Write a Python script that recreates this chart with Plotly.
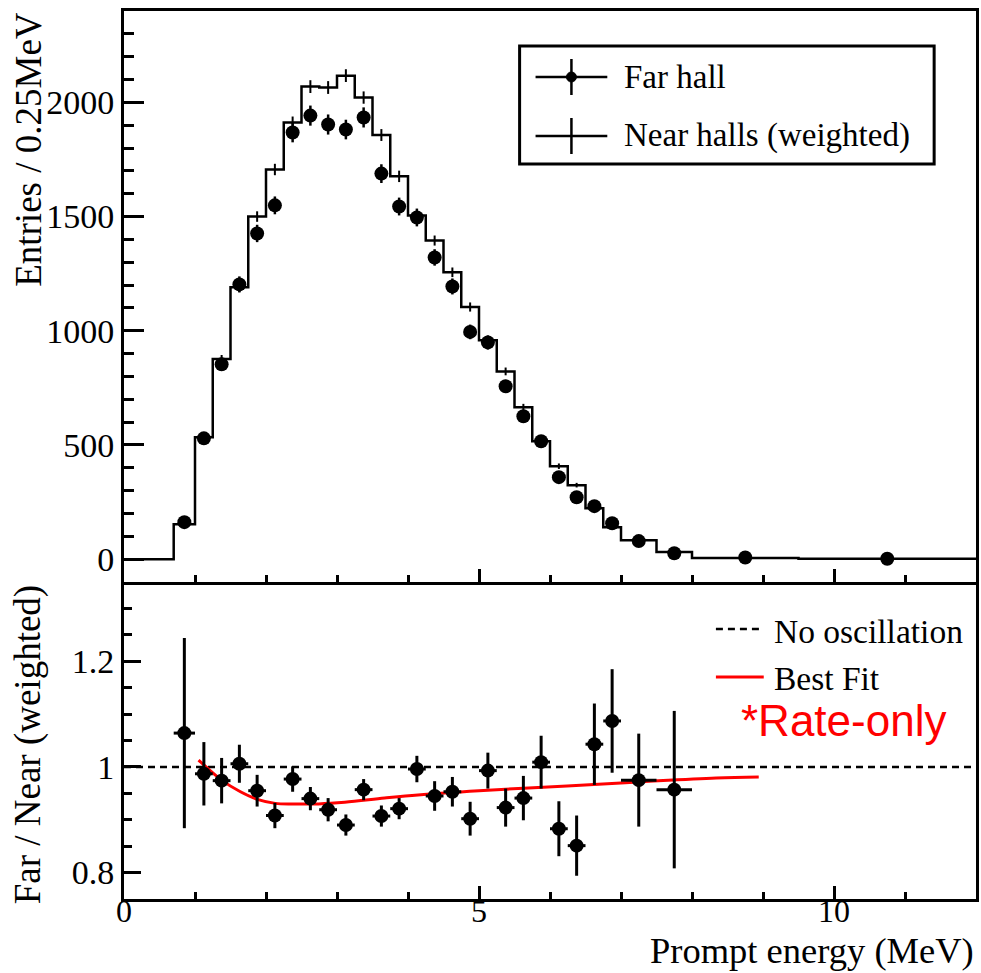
import plotly.graph_objects as go

# ---------------- data ----------------
bin_edges = [0.0, 0.7, 1.0, 1.25, 1.5, 1.75, 2.0, 2.25, 2.5, 2.75, 3.0, 3.25, 3.5, 3.75,
             4.0, 4.25, 4.5, 4.75, 5.0, 5.25, 5.5, 5.75, 6.0, 6.25, 6.5, 6.75, 7.0,
             7.5, 8.0, 9.5, 12.0]
# bins from 0.7 MeV onward (entries / 0.25 MeV)
near_counts = [153, 534, 876, 1190, 1500, 1706, 1912, 2069, 2065, 2117, 2021, 1857, 1676,
               1505, 1395, 1256, 1104, 958, 822, 665, 516, 407, 324, 223, 140, 83, 31, 5, 2]
near_err = [8, 14, 18, 21, 23, 25, 26, 28, 28, 28, 27, 26, 25, 23, 22, 21, 20, 18, 17, 15,
            13, 12, 10, 9, 7, 4, 2, 1, 1]
far_counts = [162, 529, 853, 1203, 1426, 1549, 1868, 1942, 1903, 1881, 1934, 1688, 1544,
              1496, 1321, 1194, 995, 949, 757, 626, 516, 359, 271, 232, 157, 79, 26, 7, 2]
far_err = [13, 23, 29, 35, 38, 39, 43, 44, 44, 43, 44, 41, 39, 39, 36, 35, 32, 31, 28, 25,
           23, 19, 16, 15, 13, 6, 4, 2, 1]

ratio_vals = [1.064, 0.987, 0.974, 1.006, 0.955, 0.908, 0.977, 0.940, 0.919, 0.890, 0.957,
              0.907, 0.921, 0.996, 0.945, 0.953, 0.902, 0.993, 0.923, 0.941, 1.009, 0.883,
              0.851, 1.043, 1.087, 0.975, 0.957]
ratio_err = [0.18, 0.06, 0.043, 0.036, 0.03, 0.024, 0.024, 0.022, 0.022, 0.02, 0.02, 0.02,
             0.02, 0.025, 0.028, 0.028, 0.032, 0.034, 0.036, 0.042, 0.05, 0.052, 0.057,
             0.077, 0.098, 0.088, 0.149]

fit_energy = [1.05, 1.385, 1.64, 1.89, 2.13, 2.41, 2.74, 3.11, 3.67, 4.14, 5.0, 6.24, 7.3, 8.34, 8.94]
fit_ratio = [1.013, 0.974, 0.953, 0.938, 0.931, 0.930, 0.930, 0.933, 0.941, 0.947, 0.955,
             0.964, 0.972, 0.979, 0.981]

no_osc_x = [0, 12]
no_osc_y = [1, 1]

x_ticks = [0, 5, 10]

# derived bin geometry
lo = bin_edges[1:-1]
hi = bin_edges[2:]
centers = [(a + b) / 2 for a, b in zip(lo, hi)]
half_w = [(b - a) / 2 for a, b in zip(lo, hi)]
n_ratio = len(ratio_vals)

# ---------------- layout geometry ----------------
W, H = 981, 973
L, R, T, B = 124, 2, 11, 74
PW, PH = W - L - R, H - T - B
split = (H - B - 582) / PH

def px(xp):
    return (xp - L) / PW

def py(yp):
    return (H - B - yp) / PH

SERIF = "Liberation Serif"
fig = go.Figure()

# near halls step histogram
fig.add_trace(go.Scatter(
    x=bin_edges, y=[0] + near_counts + [near_counts[-1]],
    mode="lines", line=dict(color="black", width=2.5, shape="hv"),
    xaxis="x2", yaxis="y2", showlegend=False, hoverinfo="skip"))
fig.add_trace(go.Scatter(
    x=centers, y=near_counts, mode="markers",
    marker=dict(size=1, color="rgba(0,0,0,0)"),
    error_y=dict(type="data", array=near_err, color="black", thickness=2, width=0),
    xaxis="x2", yaxis="y2", showlegend=False))
# far hall points
fig.add_trace(go.Scatter(
    x=centers, y=far_counts, mode="markers",
    marker=dict(size=14, color="black", symbol="circle"),
    error_y=dict(type="data", array=far_err, color="black", thickness=2.5, width=0),
    xaxis="x2", yaxis="y2", showlegend=False))

# ratio panel
fig.add_trace(go.Scatter(
    x=no_osc_x, y=no_osc_y, mode="lines",
    line=dict(color="black", width=2.5, dash="7px,5px"),
    xaxis="x", yaxis="y", showlegend=False))
fig.add_trace(go.Scatter(
    x=fit_energy, y=fit_ratio, mode="lines",
    line=dict(color="#ff0000", width=3, shape="spline"),
    xaxis="x", yaxis="y", showlegend=False))
fig.add_trace(go.Scatter(
    x=centers[:n_ratio], y=ratio_vals, mode="markers",
    marker=dict(size=14, color="black"),
    error_y=dict(type="data", array=ratio_err, color="black", thickness=3, width=0),
    error_x=dict(type="data", array=half_w[:n_ratio], color="black", thickness=3, width=0),
    xaxis="x", yaxis="y", showlegend=False))

axis_common = dict(showline=True, linewidth=3, linecolor="black",
                   showgrid=False, zeroline=False, ticks="inside", tickcolor="black")
yfont = dict(family=SERIF, size=34, color="black")
xfont = dict(family=SERIF, size=32, color="black")
minor_x = dict(dtick=1, tick0=0, ticklen=7, tickwidth=2.5, ticks="inside", tickcolor="black")

fig.update_layout(
    width=W, height=H,
    margin=dict(l=L, r=R, t=T, b=B),
    paper_bgcolor="white", plot_bgcolor="white",
    showlegend=False,
    xaxis=dict(domain=[0, 1], anchor="y", range=[0, 12], tickmode="array", tickvals=x_ticks,
               ticklen=13, tickwidth=2.5, minor=minor_x, mirror=False, tickfont=xfont,
               ticklabelstandoff=-18, **axis_common),
    xaxis2=dict(domain=[0, 1], anchor="y2", matches="x", range=[0, 12], tickmode="array",
                tickvals=x_ticks, showticklabels=False, ticklen=13, tickwidth=2.5,
                minor=minor_x, mirror=True, tickfont=xfont, **axis_common),
    yaxis=dict(domain=[0, split], anchor="x", range=[0.75, 1.35], tickmode="array",
               tickvals=[0.8, 1.0, 1.2], ticktext=["0.8", "1", "1.2"], ticklen=17, tickwidth=2.5,
               minor=dict(dtick=0.05, tick0=0.75, ticklen=8, tickwidth=2.5, ticks="inside", tickcolor="black"),
               mirror=True, tickfont=yfont, **axis_common),
    yaxis2=dict(domain=[split, 1], anchor="x2", range=[-100, 2400], tick0=0, dtick=500,
                ticklen=20, tickwidth=2.5,
                minor=dict(dtick=100, tick0=0, ticklen=10, tickwidth=2.5, ticks="inside", tickcolor="black"),
                mirror=True, tickfont=yfont, **axis_common),
)

ann = []
ann.append(dict(text="Entries / 0.25MeV", x=px(28), y=py(10), xref="paper", yref="paper",
                xanchor="center", yanchor="top", textangle=-90, showarrow=False,
                font=dict(family=SERIF, size=37, color="black")))
ann.append(dict(text="Far / Near (weighted)", x=px(28), y=py(744), xref="paper", yref="paper",
                xanchor="center", yanchor="middle", textangle=-90, showarrow=False,
                font=dict(family=SERIF, size=37, color="black")))
ann.append(dict(text="Prompt energy (MeV)", x=px(978), y=py(972), xref="paper", yref="paper",
                xanchor="right", yanchor="bottom", showarrow=False, borderpad=0,
                font=dict(family=SERIF, size=36.5, color="black")))
# top legend texts
ann.append(dict(text="Far hall", x=px(624), y=py(77), xref="paper", yref="paper",
                xanchor="left", yanchor="middle", showarrow=False,
                font=dict(family=SERIF, size=33, color="black")))
ann.append(dict(text="Near halls (weighted)", x=px(624), y=py(136), xref="paper", yref="paper",
                xanchor="left", yanchor="middle", showarrow=False,
                font=dict(family=SERIF, size=33, color="black")))
# bottom legend texts
ann.append(dict(text="No oscillation", x=px(774), y=py(631), xref="paper", yref="paper",
                xanchor="left", yanchor="middle", showarrow=False,
                font=dict(family=SERIF, size=33.5, color="black")))
ann.append(dict(text="Best Fit", x=px(774), y=py(678), xref="paper", yref="paper",
                xanchor="left", yanchor="middle", showarrow=False,
                font=dict(family=SERIF, size=33.5, color="black")))
ann.append(dict(text="*Rate-only", x=px(741), y=py(720), xref="paper", yref="paper",
                xanchor="left", yanchor="middle", showarrow=False,
                font=dict(family="Liberation Sans", size=44, color="#ff0000")))

shapes = []
# top legend box
shapes.append(dict(type="rect", xref="paper", yref="paper", x0=px(521), x1=px(937),
                   y0=py(164), y1=py(46), line=dict(color="black", width=3), fillcolor="white",
                   layer="above"))
for yy in (77, 136):
    shapes.append(dict(type="line", xref="paper", yref="paper", x0=px(537), x1=px(609),
                       y0=py(yy), y1=py(yy), line=dict(color="black", width=2.5)))
    shapes.append(dict(type="line", xref="paper", yref="paper", x0=px(573), x1=px(573),
                       y0=py(yy - 18), y1=py(yy + 18), line=dict(color="black", width=2.5)))
shapes.append(dict(type="circle", xref="paper", yref="paper", x0=px(568), x1=px(578),
                   y0=py(82), y1=py(72), line=dict(color="black", width=1), fillcolor="black"))
# bottom legend samples
shapes.append(dict(type="line", xref="paper", yref="paper", x0=px(718), x1=px(766),
                   y0=py(629), y1=py(629), line=dict(color="black", width=2.5, dash="7px,5px")))
shapes.append(dict(type="line", xref="paper", yref="paper", x0=px(718), x1=px(766),
                   y0=py(677), y1=py(677), line=dict(color="#ff0000", width=3)))

fig.update_layout(annotations=ann, shapes=shapes)
fig.write_html("out.html")
